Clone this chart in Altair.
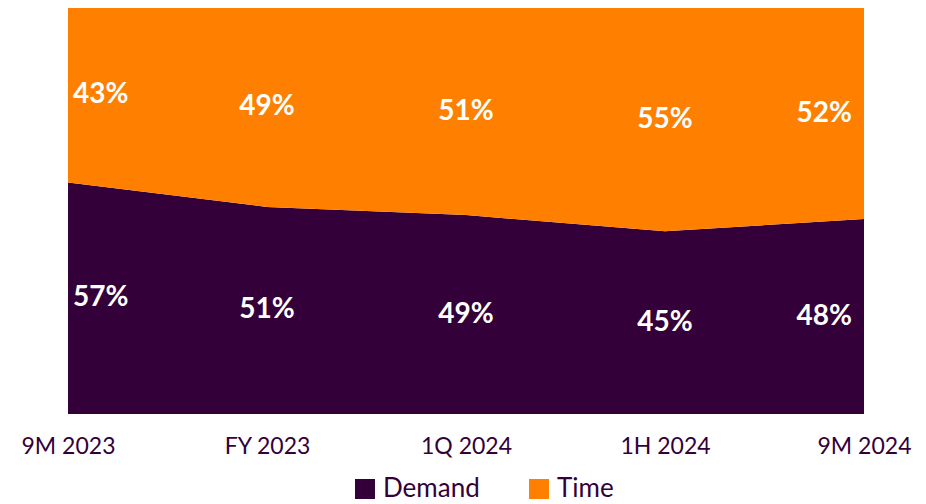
import altair as alt
import pandas as pd

periods = ["9M 2023", "FY 2023", "1Q 2024", "1H 2024", "9M 2024"]
demand = [57, 51, 49, 45, 48]
time_ = [43, 49, 51, 55, 52]
series = ["Demand", "Time"]
colors = ["#33003A", "#FF7F00"]

rows = []
for i, p in enumerate(periods):
    rows.append({"period": p, "idx": i, "series": "Demand", "s": 0, "value": demand[i]})
    rows.append({"period": p, "idx": i, "series": "Time", "s": 1, "value": time_[i]})
df = pd.DataFrame(rows)

FONT = "Lato"
xenc = alt.X("period:N", sort=periods,
             scale=alt.Scale(type="point", padding=0),
             axis=alt.Axis(title=None, domain=False, ticks=False, grid=False,
                           labelFont=FONT, labelFontSize=23, labelColor="#33003A",
                           labelPadding=21, labelAngle=0))

area = alt.Chart(df).mark_area(opacity=1, interpolate="linear").encode(
    x=xenc,
    y=alt.Y("value:Q", stack="zero", scale=alt.Scale(domain=[0, 100], nice=False),
            axis=None),
    color=alt.Color("series:N", sort=series,
                    scale=alt.Scale(domain=series, range=colors),
                    legend=alt.Legend(title=None, orient="none", legendX=284, legendY=468,
                                      direction="horizontal", symbolType="square",
                                      symbolSize=400, symbolStrokeWidth=0,
                                      labelFont=FONT, labelFontSize=26, labelColor="#33003A",
                                      columnPadding=46, labelOffset=5)),
    order=alt.Order("s:Q"),
)

base = alt.Chart(df).transform_stack(
    stack="value", groupby=["period"], as_=["y0", "y1"], sort=[alt.SortField("s")]
).transform_calculate(
    mid="(datum.y0 + datum.y1) / 2",
    lab="datum.value + '%'",
)

def labels(cond, align, dx):
    return base.transform_filter(cond).mark_text(
        color="white", font=FONT, fontWeight="bold", fontSize=28, align=align, dx=dx,
        baseline="middle"
    ).encode(
        x=alt.X("period:N", sort=periods, scale=alt.Scale(type="point", padding=0)),
        y=alt.Y("mid:Q"),
        text="lab:N",
    )

chart = alt.layer(
    area,
    labels("datum.idx == 0", "left", 5),
    labels("datum.idx > 0 && datum.idx < 4", "center", 0),
    labels("datum.idx == 4", "right", -12),
).properties(
    width=796, height=406,
    autosize=alt.AutoSizeParams(type="none"),
    padding={"left": 60, "top": 0, "right": 54, "bottom": 90},
).configure_view(stroke=None)

chart.save("out.html", embed_options={"renderer": "svg", "actions": False})
